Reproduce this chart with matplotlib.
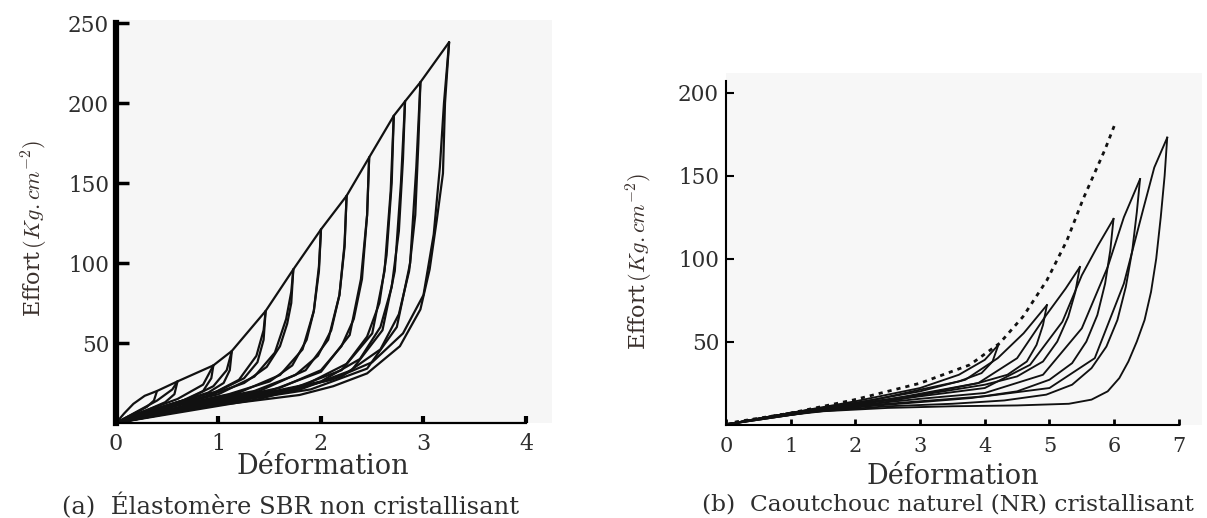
import numpy as np
import matplotlib
matplotlib.use("Agg")
import matplotlib.pyplot as plt

plt.rcParams['font.family'] = ['DejaVu Serif']
plt.rcParams['mathtext.fontset'] = 'cm'

# ---- (a) SBR : courbes (déformation, effort) ----
sbr_envelope = [(0, 0), (0.08, 6), (0.17, 12), (0.28, 17), (0.40, 20), (0.60, 26), (0.95, 36), (1.13, 45),
                (1.46, 70), (1.73, 96), (2.00, 121), (2.25, 142), (2.47, 166), (2.71, 192), (2.82, 201),
                (2.97, 213), (3.25, 238)]

sbr_unload = [
    [(0.40, 20), (0.37, 14), (0.30, 10), (0.15, 5), (0, 0)],
    [(0.60, 26), (0.57, 18), (0.48, 13), (0.30, 8), (0.12, 4), (0, 0)],
    [(0.95, 36), (0.93, 28), (0.85, 20), (0.65, 14), (0.35, 8), (0, 0)],
    [(1.13, 45), (1.11, 33), (1.05, 25), (0.90, 19), (0.60, 13), (0.30, 7), (0, 0)],
    [(1.46, 70), (1.44, 52), (1.38, 38), (1.25, 28), (1.0, 20), (0.6, 13), (0.3, 7), (0, 0)],
    [(1.73, 96), (1.71, 75), (1.67, 62), (1.60, 48), (1.47, 35), (1.25, 25), (0.9, 17), (0.5, 10), (0, 0)],
    [(2.00, 121), (1.98, 95), (1.93, 70), (1.86, 52), (1.72, 36), (1.5, 26), (1.1, 18), (0.6, 11), (0, 0)],
    [(2.25, 142), (2.23, 110), (2.18, 80), (2.10, 58), (1.97, 42), (1.75, 30), (1.35, 20), (0.8, 13), (0, 0)],
    [(2.47, 166), (2.45, 130), (2.40, 90), (2.32, 65), (2.2, 48), (2.0, 33), (1.6, 22), (1.0, 14), (0, 0)],
    [(2.71, 192), (2.69, 150), (2.64, 105), (2.57, 75), (2.45, 54), (2.25, 37), (1.85, 24), (1.1, 14), (0, 0)],
    [(2.82, 201), (2.80, 165), (2.76, 120), (2.69, 85), (2.58, 60), (2.38, 40), (2.0, 26), (1.2, 14), (0, 0)],
    [(2.97, 213), (2.95, 175), (2.92, 130), (2.86, 95), (2.76, 68), (2.58, 46), (2.2, 29), (1.4, 15), (0, 0)],
    [(3.25, 238), (3.21, 200), (3.19, 156), (3.13, 127), (3.06, 96), (2.97, 71), (2.77, 48), (2.45, 31),
     (2.12, 23), (1.79, 17.5), (1.14, 12.3), (0.49, 8), (0, 0)],
]

sbr_reload = [
    [(0, 0), (0.2, 7), (0.4, 14), (0.55, 21), (0.60, 26)],
    [(0, 0), (0.3, 8), (0.6, 15), (0.85, 24), (0.95, 36)],
    [(0, 0), (0.3, 7), (0.7, 15), (0.95, 23), (1.08, 33), (1.13, 45)],
    [(0, 0), (0.4, 9), (0.9, 17), (1.2, 27), (1.37, 42), (1.44, 58), (1.46, 70)],
    [(0, 0), (0.5, 10), (1.0, 18), (1.35, 29), (1.55, 44), (1.66, 65), (1.71, 82), (1.73, 96)],
    [(0, 0), (0.6, 11), (1.2, 19), (1.6, 30), (1.82, 46), (1.93, 70), (1.98, 98), (2.00, 121)],
    [(0, 0), (0.7, 11), (1.4, 20), (1.85, 33), (2.07, 52), (2.18, 80), (2.23, 112), (2.25, 142)],
    [(0, 0), (0.8, 12), (1.5, 20), (2.0, 32), (2.28, 55), (2.39, 90), (2.45, 130), (2.47, 166)],
    [(0, 0), (0.9, 12), (1.7, 21), (2.2, 33), (2.5, 56), (2.62, 95), (2.68, 145), (2.71, 192)],
    [(0, 0), (1.0, 12), (1.8, 21), (2.3, 33), (2.6, 58), (2.72, 95), (2.78, 150), (2.82, 201)],
    [(0, 0), (1.1, 13), (1.9, 21), (2.45, 34), (2.74, 60), (2.87, 100), (2.93, 160), (2.97, 213)],
    [(0, 0), (1.0, 14), (1.6, 20), (2.1, 27), (2.5, 38), (2.8, 56), (3.0, 80), (3.1, 118), (3.16, 160),
     (3.2, 200), (3.25, 238)],
]

# ---- (b) NR ----
nr_first = [(0, 0), (0.17, 1.7), (0.99, 6.8), (1.97, 14.8), (3.0, 24.9), (3.77, 36), (4.23, 49),
            (4.59, 65), (4.96, 87), (5.27, 111), (5.52, 136), (5.86, 166), (6.0, 180)]

nr_load = [
    [(0, 0), (1.0, 7), (2.0, 14), (3.0, 22), (3.6, 30), (4.0, 39), (4.21, 48)],
    [(0, 0), (1.0, 7), (2.0, 13), (3.0, 20), (3.7, 27), (4.2, 40), (4.6, 55), (4.96, 72)],
    [(0, 0), (1.0, 7), (2.0, 12.5), (3.0, 18), (3.9, 25), (4.5, 40), (4.95, 66), (5.25, 82), (5.47, 95)],
    [(0, 0), (1.0, 7), (2.0, 12), (3.0, 17), (4.0, 22), (4.7, 36), (5.2, 62), (5.5, 90), (5.75, 108),
     (5.99, 124)],
    [(0, 0), (1.0, 6.5), (2.0, 11.5), (3.0, 15.5), (4.0, 19), (4.9, 30), (5.5, 58), (5.9, 95),
     (6.15, 125), (6.40, 148)],
    [(0, 0), (1.0, 6.5), (2.0, 11), (3.0, 14), (4.0, 17), (5.0, 22), (5.7, 40), (6.15, 85), (6.45, 130),
     (6.62, 155), (6.82, 173)],
]

nr_unload = [
    [(4.21, 48), (4.12, 38), (3.95, 31), (3.6, 26), (3.0, 21), (2.3, 15), (1.5, 10), (0.7, 5), (0, 0)],
    [(4.96, 72), (4.9, 60), (4.8, 48), (4.65, 38), (4.35, 30), (3.9, 25), (3.2, 20), (2.5, 15), (1.5, 9),
     (0.7, 4.5), (0, 0)],
    [(5.47, 95), (5.4, 80), (5.29, 65), (5.12, 50), (4.9, 38), (4.5, 29), (4.0, 24), (3.2, 19), (2.4, 13),
     (1.4, 8), (0, 0)],
    [(5.99, 124), (5.94, 105), (5.86, 85), (5.74, 66), (5.57, 50), (5.35, 37), (5.0, 27), (4.5, 20),
     (3.8, 16), (3.0, 13.5), (2.2, 11), (1.2, 7), (0, 0)],
    [(6.40, 148), (6.35, 128), (6.28, 105), (6.18, 83), (6.05, 63), (5.88, 47), (5.65, 34), (5.35, 24),
     (4.95, 18), (4.3, 14.5), (3.5, 12.5), (2.5, 11), (1.3, 7.5), (0, 0)],
    [(6.82, 173), (6.78, 150), (6.72, 125), (6.65, 100), (6.57, 80), (6.47, 63), (6.35, 50), (6.22, 38),
     (6.08, 28), (5.9, 20), (5.65, 15), (5.3, 12.5), (4.5, 11.5), (3.5, 11), (2.5, 10), (1.5, 8),
     (0.7, 4.5), (0, 0)],
]

sbr_xticks = [0, 1, 2, 3, 4]
sbr_yticks = [50, 100, 150, 200, 250]
nr_xticks = [0, 1, 2, 3, 4, 5, 6, 7]
nr_yticks = [50, 100, 150, 200]

W, H = 1207, 518
txt = '#2e2e2e'
fig = plt.figure(figsize=(W / 100, H / 100), dpi=100)


def px(x0, y0, w, h):
    return [x0 / W, 1 - (y0 + h) / H, w / W, h / H]


def curve(ax, pts, **kw):
    a = np.array(pts)
    ax.plot(a[:, 0], a[:, 1], **kw)


# ---------- (a) ----------
ax1 = fig.add_axes(px(116, 19.8, 435.6, 403.2))
ax1.set_facecolor('#f6f6f6')
ax1.set_xlim(0, 4.25)
ax1.set_ylim(0, 252)
kw = dict(color='#111111', lw=1.6, solid_capstyle='round', solid_joinstyle='round')
curve(ax1, sbr_envelope, **kw)
for c in sbr_unload:
    curve(ax1, c, **kw)
for c in sbr_reload:
    curve(ax1, c, **kw)

for s in ['top', 'right']:
    ax1.spines[s].set_visible(False)
ax1.spines['left'].set_linewidth(4.5)
ax1.spines['left'].set_bounds(0, 250)
ax1.spines['bottom'].set_linewidth(1.6)
ax1.spines['bottom'].set_bounds(0, 4)
ax1.set_xticks(sbr_xticks)
ax1.set_yticks(sbr_yticks)
ax1.tick_params(axis='y', direction='in', length=9, width=2.5, pad=5, labelsize=15.5, labelcolor=txt)
ax1.tick_params(axis='x', direction='in', length=5, width=3, pad=7, labelsize=16, labelcolor=txt)

fig.text(35 / W, 1 - 228 / H, r'Effort$\,(Kg.cm^{-2})$', rotation=90, ha='center', va='center',
         fontsize=16, color='#3a302c')
fig.text(323 / W, 1 - 466 / H, 'Déformation', ha='center', va='center', fontsize=19.5, color=txt)
fig.text(291 / W, 1 - 506 / H, '(a)  Élastomère SBR non cristallisant', ha='center', va='center',
         fontsize=17.5, color=txt)

# ---------- (b) ----------
ax2 = fig.add_axes(px(726, 73, 475.5, 351.5))
ax2.set_facecolor('#f7f7f7')
ax2.set_xlim(0, 7.35)
ax2.set_ylim(0, 212)
kw2 = dict(color='#111111', lw=1.35, solid_joinstyle='round')
for c in nr_load:
    curve(ax2, c, **kw2)
for c in nr_unload:
    curve(ax2, c, **kw2)
curve(ax2, nr_first, color='#111111', lw=2.0, linestyle=(0, (1.5, 1.8)))

for s in ['top', 'right']:
    ax2.spines[s].set_visible(False)
ax2.spines['left'].set_linewidth(1.5)
ax2.spines['left'].set_bounds(0, 207)
ax2.spines['bottom'].set_linewidth(1.5)
ax2.spines['bottom'].set_bounds(0, 7)
ax2.set_xticks(nr_xticks)
ax2.set_yticks(nr_yticks)
ax2.tick_params(axis='y', direction='in', length=6, width=1.5, pad=5, labelsize=15.5, labelcolor=txt)
ax2.tick_params(axis='x', direction='in', length=4, width=2, pad=9, labelsize=15, labelcolor=txt)

fig.text(640 / W, 1 - 261 / H, r'Effort$\,(Kg.cm^{-2})$', rotation=90, ha='center', va='center',
         fontsize=16, color='#3a302c')
fig.text(953 / W, 1 - 476 / H, 'Déformation', ha='center', va='center', fontsize=19.5, color=txt)
fig.text(948 / W, 1 - 505 / H, '(b)  Caoutchouc naturel (NR) cristallisant', ha='center', va='center',
         fontsize=16.8, color=txt)

fig.savefig('out.png', dpi=100, facecolor='white')
